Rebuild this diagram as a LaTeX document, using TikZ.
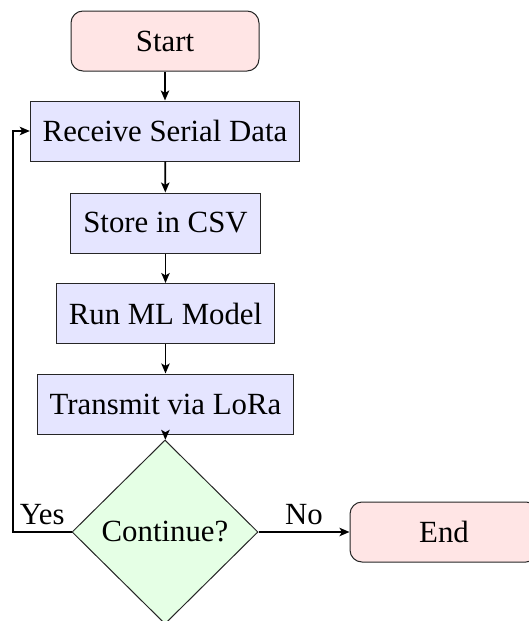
\documentclass[tikz,border=0pt]{standalone}
\usepackage{fontspec}
\setmainfont{Liberation Serif}
\usetikzlibrary{shapes.geometric,arrows.meta}
\begin{document}
\begin{tikzpicture}[x=0.5pt,y=-0.5pt,
  base/.style={draw=black!85, line width=0.5pt, minimum height=30pt,
    inner xsep=6.2pt, font=\fontsize{15.4}{18}\selectfont},
  terminal/.style={base, rounded corners=6pt, fill=red!10, minimum width=94pt},
  process/.style={base, fill=blue!10},
  decision/.style={base, diamond, fill=green!10, minimum width=93pt,
    minimum height=92pt, inner sep=0pt},
  flow/.style={-{Stealth[length=5pt, width=4.2pt, inset=1.2pt]}, line width=0.9pt},
  lbl/.style={font=\fontsize{15.4}{18}\selectfont}]
\useasboundingbox (0,0) rectangle (529,621);

% process chain
\node[terminal] (start) at (165,41) {Start};
\node[process] (recv) at (165,131) {Receive Serial Data};
\node[process, minimum width=94pt] (store) at (165.5,223) {Store in CSV};
\node[process] (model) at (165.5,313.5) {Run ML Model};
\node[process] (send) at (165.5,404) {Transmit via LoRa};
\node[decision] (dec) at (165,532) {Continue?};
\node[terminal] (stop) at (444,532) {End};

% connectors
\draw[flow] (start) -- (recv);
\draw[flow] (recv) -- (store);
\draw[flow] (store) -- (model);
\draw[flow] (model) -- (send);
\draw[flow] (send) -- (dec);
\coordinate (loop) at (13,532);
\draw[flow] (dec.west) -- node[lbl, above] {Yes} (loop) |- (recv.west);
\draw[flow] (dec.east) -- node[lbl, above] {No} (stop.west);
\end{tikzpicture}
\end{document}
